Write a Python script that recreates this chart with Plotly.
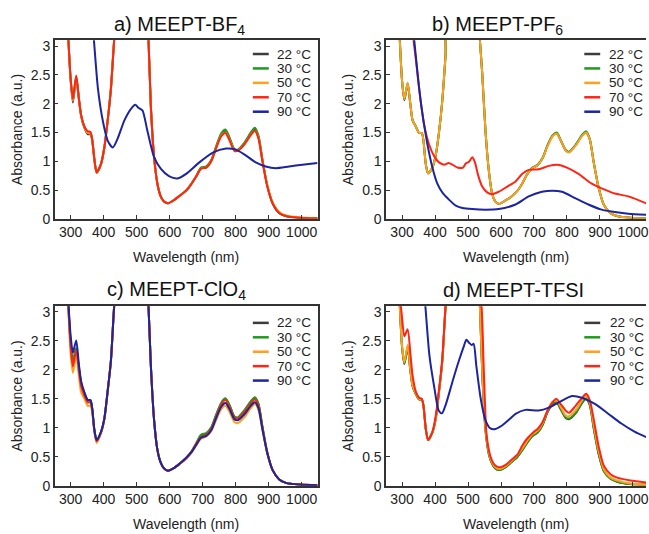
import plotly.graph_objects as go

# ---------------- data ----------------
TEMPS = ["22 °C", "30 °C", "50 °C", "70 °C", "90 °C"]
COLORS = ["#3c3c3c", "#1e9a1e", "#ffa01e", "#ff2414", "#1c24a0"]
X_TICKS = [300, 400, 500, 600, 700, 800, 900, 1000]
Y_TICKS = [0, 0.5, 1, 1.5, 2, 2.5, 3]

WL = [290, 300, 307, 317, 325, 332, 342, 352, 360, 365, 372, 379, 392, 402, 412, 422, 432, 440,
      530, 536, 543, 553, 563, 573, 583, 595, 614, 630, 650, 665, 680, 695, 711, 726, 741, 756,
      769, 781, 796, 806, 826, 846, 858, 869, 881, 896, 912, 932, 952, 992, 1048]

# a) MEEPT-BF4
A_22 = [3.5, 2.42, 2.02, 2.44, 2.08, 1.78, 1.58, 1.47, 1.47, 1.38, 1.03, 0.80, 0.95, 1.23, 1.69, 2.25, 3.1, 3.6,
        3.6, 3.1, 1.97, 1.07, 0.61, 0.39, 0.30, 0.27, 0.33, 0.40, 0.49, 0.60, 0.73, 0.88, 0.90, 1.01, 1.25, 1.46,
        1.52, 1.40, 1.20, 1.19, 1.30, 1.48, 1.55, 1.42, 1.02, 0.57, 0.27, 0.10, 0.05, 0.02, 0.01]
A_30 = [3.5, 2.45, 2.10, 2.47, 2.10, 1.80, 1.60, 1.50, 1.50, 1.40, 1.04, 0.81, 0.95, 1.23, 1.69, 2.25, 3.1, 3.6,
        3.6, 3.1, 1.97, 1.07, 0.61, 0.39, 0.30, 0.27, 0.33, 0.40, 0.49, 0.60, 0.74, 0.89, 0.91, 1.02, 1.26, 1.48,
        1.55, 1.42, 1.21, 1.20, 1.32, 1.50, 1.58, 1.45, 1.04, 0.57, 0.27, 0.10, 0.05, 0.02, 0.01]
A_50 = [3.5, 2.43, 2.05, 2.46, 2.09, 1.79, 1.59, 1.49, 1.48, 1.39, 1.03, 0.80, 0.95, 1.23, 1.69, 2.25, 3.1, 3.6,
        3.6, 3.1, 1.97, 1.07, 0.61, 0.39, 0.30, 0.27, 0.33, 0.40, 0.49, 0.60, 0.73, 0.87, 0.89, 1.00, 1.23, 1.44,
        1.50, 1.38, 1.19, 1.18, 1.29, 1.46, 1.53, 1.41, 1.01, 0.58, 0.29, 0.12, 0.06, 0.03, 0.01]
A_70 = [3.5, 2.45, 2.08, 2.49, 2.10, 1.80, 1.60, 1.52, 1.51, 1.40, 1.04, 0.81, 0.95, 1.23, 1.69, 2.25, 3.1, 3.6,
        3.6, 3.1, 1.97, 1.07, 0.61, 0.39, 0.30, 0.27, 0.33, 0.40, 0.49, 0.60, 0.73, 0.87, 0.89, 1.00, 1.23, 1.43,
        1.49, 1.37, 1.18, 1.18, 1.29, 1.46, 1.53, 1.40, 1.00, 0.56, 0.27, 0.10, 0.05, 0.02, 0.01]
A_90_WL = [360, 370, 383, 398, 413, 428, 443, 463, 483, 496, 505, 511, 518, 533, 553, 573, 598, 624, 650,
           690, 731, 771, 796, 826, 861, 891, 922, 962, 1002, 1048]
A_90 = [3.8, 3.15, 2.25, 1.69, 1.35, 1.24, 1.40, 1.71, 1.91, 1.98, 1.93, 1.91, 1.88, 1.52, 1.07, 0.87, 0.74,
        0.70, 0.78, 0.98, 1.15, 1.22, 1.21, 1.12, 0.98, 0.91, 0.88, 0.91, 0.94, 0.97]

# b) MEEPT-PF6
B_22 = [3.5, 2.40, 2.06, 2.34, 2.0, 1.71, 1.60, 1.49, 1.49, 1.35, 0.95, 0.79, 0.89, 1.10, 1.50, 2.05, 2.85, 3.6,
        3.6, 3.1, 2.53, 1.52, 0.84, 0.44, 0.30, 0.26, 0.32, 0.38, 0.49, 0.62, 0.78, 0.88, 0.93, 1.05, 1.27, 1.44,
        1.48, 1.36, 1.19, 1.16, 1.28, 1.45, 1.50, 1.38, 0.98, 0.54, 0.24, 0.10, 0.05, 0.02, 0.01]
B_30 = [3.5, 2.40, 2.08, 2.36, 2.0, 1.71, 1.60, 1.49, 1.49, 1.35, 0.95, 0.79, 0.89, 1.10, 1.50, 2.05, 2.85, 3.6,
        3.6, 3.1, 2.53, 1.52, 0.84, 0.44, 0.30, 0.26, 0.32, 0.38, 0.49, 0.62, 0.78, 0.89, 0.94, 1.06, 1.28, 1.45,
        1.50, 1.37, 1.20, 1.16, 1.28, 1.46, 1.52, 1.39, 0.99, 0.54, 0.24, 0.10, 0.05, 0.02, 0.01]
B_50 = [3.5, 2.40, 2.08, 2.36, 2.0, 1.71, 1.60, 1.49, 1.49, 1.35, 0.95, 0.79, 0.89, 1.10, 1.50, 2.05, 2.85, 3.6,
        3.6, 3.1, 2.53, 1.52, 0.84, 0.44, 0.30, 0.26, 0.32, 0.38, 0.49, 0.62, 0.78, 0.88, 0.93, 1.05, 1.26, 1.43,
        1.48, 1.36, 1.19, 1.15, 1.27, 1.44, 1.50, 1.38, 0.98, 0.54, 0.24, 0.10, 0.05, 0.02, 0.01]
B_70_WL = [325, 333, 342, 352, 367, 382, 397, 412, 428, 441, 453, 468, 485, 493, 503, 513, 521, 531, 543, 558,
           573, 593, 619, 644, 664, 684, 714, 745, 770, 800, 835, 875, 905, 945, 986, 1048]
B_70 = [3.8, 3.2, 2.76, 2.25, 1.63, 1.29, 1.09, 0.98, 0.94, 0.97, 0.94, 0.89, 0.89, 0.96, 0.99, 1.07, 0.98, 0.75,
        0.56, 0.46, 0.43, 0.47, 0.56, 0.65, 0.78, 0.85, 0.86, 0.92, 0.94, 0.89, 0.78, 0.61, 0.53, 0.44, 0.39, 0.25]
B_90_WL = [325, 337, 347, 357, 367, 377, 392, 407, 422, 443, 463, 483, 513, 553, 593, 644, 684, 724, 755, 785,
           825, 865, 905, 945, 986, 1048]
B_90 = [3.8, 3.1, 2.53, 2.02, 1.63, 1.29, 0.89, 0.61, 0.46, 0.33, 0.23, 0.19, 0.17, 0.16, 0.17, 0.25, 0.39,
        0.47, 0.49, 0.47, 0.36, 0.25, 0.16, 0.12, 0.09, 0.07]

# c) MEEPT-ClO4
C_22 = [3.5, 2.45, 2.12, 2.36, 2.03, 1.76, 1.58, 1.47, 1.47, 1.35, 0.96, 0.78, 0.92, 1.15, 1.62, 2.15, 3.1, 3.6,
        3.6, 3.1, 2.09, 1.13, 0.62, 0.40, 0.30, 0.26, 0.31, 0.38, 0.48, 0.58, 0.72, 0.87, 0.90, 1.00, 1.22, 1.42,
        1.50, 1.39, 1.19, 1.17, 1.29, 1.45, 1.52, 1.41, 1.02, 0.57, 0.27, 0.11, 0.05, 0.02, 0.01]
C_30 = [3.5, 2.50, 2.17, 2.38, 2.05, 1.78, 1.60, 1.48, 1.48, 1.36, 0.97, 0.79, 0.92, 1.15, 1.62, 2.15, 3.1, 3.6,
        3.6, 3.1, 2.09, 1.13, 0.62, 0.40, 0.30, 0.26, 0.31, 0.38, 0.48, 0.58, 0.73, 0.88, 0.91, 1.01, 1.23, 1.43,
        1.51, 1.40, 1.20, 1.18, 1.30, 1.46, 1.53, 1.42, 1.03, 0.57, 0.27, 0.11, 0.05, 0.02, 0.01]
C_50 = [3.5, 2.30, 1.95, 2.25, 1.90, 1.61, 1.50, 1.38, 1.38, 1.28, 0.92, 0.74, 0.90, 1.13, 1.60, 2.13, 3.1, 3.6,
        3.6, 3.1, 2.09, 1.13, 0.62, 0.40, 0.30, 0.26, 0.31, 0.37, 0.46, 0.56, 0.69, 0.81, 0.85, 0.94, 1.14, 1.32,
        1.38, 1.28, 1.10, 1.08, 1.18, 1.34, 1.41, 1.31, 0.96, 0.55, 0.27, 0.11, 0.05, 0.02, 0.01]
C_70 = [3.5, 2.40, 2.06, 2.34, 2.00, 1.72, 1.55, 1.44, 1.44, 1.33, 0.95, 0.77, 0.92, 1.15, 1.62, 2.15, 3.1, 3.6,
        3.6, 3.1, 2.09, 1.13, 0.62, 0.40, 0.30, 0.26, 0.31, 0.38, 0.48, 0.58, 0.72, 0.84, 0.88, 0.98, 1.20, 1.40,
        1.48, 1.37, 1.18, 1.16, 1.27, 1.42, 1.49, 1.38, 1.00, 0.56, 0.27, 0.11, 0.05, 0.02, 0.01]
C_90 = [3.5, 2.60, 2.30, 2.51, 2.10, 1.80, 1.61, 1.48, 1.48, 1.36, 0.97, 0.79, 0.93, 1.15, 1.62, 2.15, 3.1, 3.6,
        3.6, 3.1, 2.09, 1.13, 0.62, 0.40, 0.30, 0.26, 0.31, 0.38, 0.48, 0.57, 0.70, 0.83, 0.86, 0.96, 1.17, 1.36,
        1.43, 1.33, 1.15, 1.13, 1.23, 1.38, 1.44, 1.34, 0.98, 0.56, 0.27, 0.11, 0.05, 0.02, 0.01]

# d) MEEPT-TFSI
D_22 = [3.5, 2.40, 2.10, 2.38, 2.0, 1.72, 1.58, 1.49, 1.49, 1.38, 0.98, 0.79, 0.92, 1.15, 1.62, 2.15, 3.1, 3.6,
        3.6, 3.1, 1.97, 0.96, 0.55, 0.38, 0.30, 0.27, 0.32, 0.40, 0.50, 0.62, 0.75, 0.86, 0.92, 1.05, 1.27, 1.41,
        1.43, 1.32, 1.17, 1.15, 1.25, 1.43, 1.50, 1.39, 0.99, 0.55, 0.25, 0.12, 0.07, 0.03, 0.02]
D_30 = [3.5, 2.40, 2.11, 2.41, 2.0, 1.72, 1.58, 1.49, 1.49, 1.38, 0.98, 0.79, 0.92, 1.15, 1.62, 2.15, 3.1, 3.6,
        3.6, 3.1, 1.97, 0.96, 0.55, 0.38, 0.30, 0.27, 0.32, 0.40, 0.50, 0.62, 0.75, 0.86, 0.92, 1.05, 1.28, 1.42,
        1.44, 1.33, 1.18, 1.16, 1.26, 1.44, 1.51, 1.40, 1.00, 0.55, 0.25, 0.12, 0.07, 0.03, 0.02]
D_50 = [3.5, 2.42, 2.13, 2.43, 2.02, 1.73, 1.59, 1.50, 1.49, 1.38, 0.98, 0.79, 0.92, 1.15, 1.62, 2.15, 3.1, 3.6,
        3.6, 3.1, 2.00, 1.00, 0.58, 0.40, 0.32, 0.29, 0.34, 0.42, 0.53, 0.65, 0.78, 0.89, 0.95, 1.08, 1.30, 1.45,
        1.47, 1.36, 1.21, 1.20, 1.30, 1.48, 1.55, 1.44, 1.05, 0.60, 0.28, 0.14, 0.09, 0.04, 0.02]
D_70_WL = [290, 300, 307, 317, 325, 332, 342, 352, 360, 365, 372, 379, 392, 402, 412, 422, 432, 440,
           530, 541, 548, 556, 566, 578, 588, 598, 614, 630, 650, 665, 680, 699, 711, 726, 741, 756,
           768, 781, 796, 806, 826, 846, 858, 869, 881, 896, 912, 932, 952, 992, 1048]
D_70 = [3.5, 2.90, 2.58, 2.70, 2.30, 1.90, 1.62, 1.52, 1.50, 1.38, 0.98, 0.79, 0.93, 1.20, 1.65, 2.20, 3.1, 3.6,
        3.6, 3.1, 1.97, 0.90, 0.55, 0.38, 0.33, 0.32, 0.36, 0.44, 0.54, 0.70, 0.82, 0.93, 0.98, 1.10, 1.30, 1.44,
        1.50, 1.41, 1.30, 1.26, 1.38, 1.52, 1.59, 1.48, 1.15, 0.68, 0.34, 0.20, 0.14, 0.09, 0.05]
D_90_WL = [360, 370, 383, 398, 411, 421, 433, 453, 473, 488, 495, 503, 511, 517, 525, 538, 553, 568, 583,
           603, 628, 644, 674, 714, 745, 775, 815, 845, 886, 926, 966, 1006, 1048]
D_90 = [3.8, 3.15, 2.25, 1.69, 1.30, 1.25, 1.41, 1.80, 2.17, 2.42, 2.52, 2.47, 2.43, 2.45, 2.08, 1.52, 1.13,
        0.99, 0.98, 1.04, 1.16, 1.24, 1.31, 1.30, 1.35, 1.44, 1.55, 1.52, 1.41, 1.24, 1.07, 0.93, 0.82]

PANELS = [
    ("a) MEEPT-BF<sub>4</sub>", [(WL, A_22), (WL, A_30), (WL, A_50), (WL, A_70), (A_90_WL, A_90)]),
    ("b) MEEPT-PF<sub>6</sub>", [(WL, B_22), (WL, B_30), (WL, B_50), (B_70_WL, B_70), (B_90_WL, B_90)]),
    ("c) MEEPT-ClO<sub>4</sub>", [(WL, C_22), (WL, C_30), (WL, C_50), (WL, C_70), (WL, C_90)]),
    ("d) MEEPT-TFSI", [(WL, D_22), (WL, D_30), (WL, D_50), (D_70_WL, D_70), (D_90_WL, D_90)]),
]

# ---------------- layout ----------------
W, H = 649, 534
FONT = "Liberation Sans, Arial, Helvetica, sans-serif"
# plot-area pixel boxes: (left, right, top, bottom)
BOXES = [(55, 319, 39, 221), (388, 649, 39, 221), (55, 319, 310, 493), (388, 649, 310, 493)]
X_RANGES = [[252, 1048], [252, 1039.5], [252, 1048], [252, 1039.5]]
TITLE_POS = [(180, 24), (500, 24), (177, 294), (516, 294)]
# legend: (line start x, text start x, first row y); row step in px
LEGEND_POS = [(254, 276, 53), (587, 610, 53), (254, 276, 327), (587, 611, 327)]
LEG_STEP = 14.7
LEG_LINE = 16

fig = go.Figure()
annotations = []
shapes = []
layout = dict(
    width=W, height=H, margin=dict(l=0, r=0, t=0, b=0),
    paper_bgcolor="white", plot_bgcolor="white",
    font=dict(family=FONT, size=14, color="#222"),
    showlegend=False,
)

for i, (title, series) in enumerate(PANELS):
    n = i + 1
    xa = "x" if n == 1 else f"x{n}"
    ya = "y" if n == 1 else f"y{n}"
    for j, (wl, vals) in enumerate(series):
        fig.add_trace(go.Scatter(
            x=wl, y=vals, mode="lines", name=TEMPS[j],
            line=dict(color=COLORS[j], width=2, shape="spline", smoothing=0.7),
            xaxis=xa, yaxis=ya,
        ))
    l, r, t, b = BOXES[i]
    xkey = "xaxis" if n == 1 else f"xaxis{n}"
    ykey = "yaxis" if n == 1 else f"yaxis{n}"
    layout[xkey] = dict(
        domain=[l / W, r / W], range=X_RANGES[i], anchor=ya,
        tickmode="array", tickvals=X_TICKS, ticks="inside", ticklen=4, tickcolor="#333",
        showline=True, linecolor="#333", linewidth=1.5, mirror=True,
        showgrid=False, zeroline=False, ticklabeloverflow="allow",
        tickfont=dict(size=14, color="#222"),
        title=dict(text="Wavelength (nm)", font=dict(size=14, color="#222"), standoff=13),
    )
    layout[ykey] = dict(
        domain=[1 - b / H, 1 - t / H], range=[0, 3.1], anchor=xa,
        tickmode="array", tickvals=Y_TICKS, ticks="inside", ticklen=4, tickcolor="#333",
        showline=True, linecolor="#333", linewidth=1.5, mirror=(n in (1, 3)),
        showgrid=False, zeroline=False,
        tickfont=dict(size=14, color="#222"),
        title=dict(text="Absorbance (a.u.)", font=dict(size=14, color="#222"), standoff=5),
    )
    # per-panel legend (compact, as in the reference)
    lx, tx0, ly = LEGEND_POS[i]
    for j, name in enumerate(TEMPS):
        yy = ly + j * LEG_STEP
        shapes.append(dict(
            type="line", xref="paper", yref="paper",
            x0=lx / W, x1=(lx + LEG_LINE) / W, y0=1 - yy / H, y1=1 - yy / H,
            line=dict(color=COLORS[j], width=2.5),
        ))
        annotations.append(dict(
            text=name, x=tx0 / W, y=1 - yy / H, xref="paper", yref="paper",
            xanchor="left", yanchor="middle", showarrow=False,
            font=dict(size=13.5, color="#222", family=FONT),
        ))
    tx, ty = TITLE_POS[i]
    annotations.append(dict(
        text=title, x=tx / W, y=1 - ty / H, xref="paper", yref="paper",
        xanchor="center", yanchor="middle", showarrow=False,
        font=dict(size=20, color="#111", family=FONT),
    ))

layout["annotations"] = annotations
layout["shapes"] = shapes
fig.update_layout(**layout)
fig.write_html("out.html")
